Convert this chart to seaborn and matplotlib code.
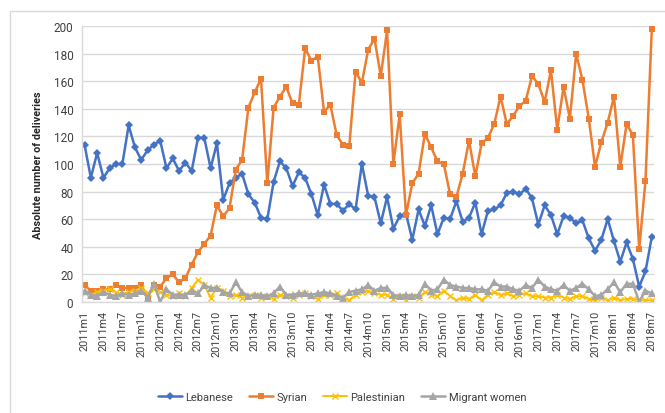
# Gráfico de partos por nacionalidad (mensual 2011m1 - 2018m7)
import seaborn as sns
import matplotlib.pyplot as plt
from matplotlib.patches import Rectangle
import pandas as pd

# Datos
lebanese = [114, 90, 108, 90, 97, 100, 100, 128, 112, 103, 110, 114,
            117, 97, 104, 95, 101, 95, 119, 119, 97, 115, 74, 86,
            90, 93, 78, 72, 61, 60, 87, 102, 97, 84, 94, 90,
            78, 63, 85, 71, 71, 66, 71, 67, 100, 77, 76, 57,
            76, 53, 62, 64, 45, 67, 55, 70, 49, 61, 60, 73,
            58, 61, 72, 49, 66, 67, 70, 79, 80, 78, 82, 75,
            56, 70, 63, 49, 62, 61, 57, 59, 46, 37, 45, 60,
            44, 29, 43, 31, 11, 22, 47]
syrian = [12, 8, 8, 9, 9, 12, 10, 10, 10, 12, 3, 12,
          11, 17, 20, 14, 17, 27, 36, 42, 48, 70, 62, 68,
          96, 103, 141, 152, 162, 86, 141, 149, 156, 144, 143, 184,
          175, 178, 138, 143, 121, 114, 113, 167, 159, 183, 191, 164,
          197, 100, 136, 63, 86, 93, 122, 112, 102, 100, 78, 76,
          93, 117, 91, 115, 119, 129, 149, 129, 135, 142, 146, 164,
          158, 145, 168, 125, 156, 133, 180, 161, 133, 98, 116, 130,
          149, 98, 129, 121, 38, 88, 198]
palestinian = [6, 5, 7, 8, 9, 7, 5, 7, 8, 10, 6, 9,
               7, 5, 4, 6, 4, 10, 16, 12, 3, 10, 8, 4,
               5, 3, 4, 5, 3, 4, 2, 5, 4, 3, 5, 6,
               4, 2, 5, 5, 6, 3, 1, 5, 7, 8, 6, 5,
               5, 2, 4, 1, 4, 3, 7, 5, 4, 8, 4, 1,
               3, 2, 5, 1, 5, 7, 5, 6, 4, 5, 6, 4,
               4, 3, 3, 5, 3, 2, 4, 4, 2, 1, 3, 1,
               3, 1, 2, 2, 1, 1, 1]
migrant = [8, 5, 4, 7, 5, 4, 6, 5, 6, 8, 3, 13,
           0, 9, 5, 5, 5, 8, 6, 12, 10, 10, 7, 6,
           14, 7, 4, 5, 5, 4, 6, 11, 5, 5, 6, 6,
           5, 6, 7, 6, 4, 3, 7, 8, 9, 12, 8, 10,
           10, 5, 4, 5, 4, 5, 13, 8, 9, 16, 12, 11,
           10, 10, 9, 9, 8, 14, 11, 11, 9, 8, 12, 10,
           16, 11, 9, 8, 12, 8, 10, 13, 9, 4, 5, 9,
           14, 7, 13, 13, 0, 8, 6]

months = [f"{2011 + i // 12}m{i % 12 + 1}" for i in range(len(lebanese))]
tick_pos = list(range(0, len(months), 3))
tick_labels = [months[i] for i in tick_pos]

series = {
    "Lebanese": lebanese,
    "Syrian": syrian,
    "Palestinian": palestinian,
    "Migrant women": migrant,
}
# color, marcador, tamaño, grosor de línea
estilos = {
    "Lebanese": ("#4472C4", "D", 4.0, 1.8),
    "Syrian": ("#ED7D31", "s", 5.0, 1.8),
    "Palestinian": ("#FFC000", "x", 5.0, 1.4),
    "Migrant women": ("#A5A5A5", "^", 5.5, 1.8),
}

sns.set_style("white")
plt.rcParams["font.family"] = ["Roboto", "DejaVu Sans"]

fig = plt.figure(figsize=(6.65, 4.14), dpi=100)
ax = fig.add_axes([81.7 / 665, 1 - 302.7 / 414, (654 - 81.7) / 665, (302.7 - 27.3) / 414])

for nombre, valores in series.items():
    df = pd.DataFrame({"x": range(len(valores)), "y": valores})
    color, marca, tam, lw = estilos[nombre]
    sns.lineplot(data=df, x="x", y="y", ax=ax, color=color, marker=marca,
                 markersize=tam, linewidth=lw, markeredgewidth=1.0 if marca == "x" else 0,
                 markeredgecolor=color, label=nombre, legend=False)

ax.set_xlim(-0.45, len(months) - 1 + 0.35)
ax.set_ylim(0, 200)
ax.set_yticks(range(0, 201, 20))
ax.tick_params(axis="y", labelsize=8.5, colors="#404040", length=0, pad=6)
ax.set_xticks(tick_pos)
ax.set_xticklabels(tick_labels, rotation=90, fontsize=7.8, color="#404040")
ax.tick_params(axis="x", length=0, pad=6)
ax.yaxis.grid(True, color="#D9D9D9", linewidth=1)
ax.set_axisbelow(True)
ax.set_xlabel("")
ax.set_ylabel("Absolute number of deliveries", fontsize=7.8, fontweight="bold",
              color="#262626", labelpad=8)
for lado in ["top", "right"]:
    ax.spines[lado].set_visible(False)
for lado in ["left", "bottom"]:
    ax.spines[lado].set_color("#D9D9D9")
    ax.spines[lado].set_linewidth(1)

# borde del área del gráfico
fig.patches.append(Rectangle((10 / 665, -0.1), 1.2, 1 - 12.3 / 414 + 0.1,
                             transform=fig.transFigure, fill=False,
                             edgecolor="#D9D9D9", linewidth=1))

handles, labels = ax.get_legend_handles_labels()
fig.legend(handles, labels, loc="center", bbox_to_anchor=(342 / 665, 1 - 398 / 414),
           ncol=4, frameon=False, fontsize=8, handlelength=2.2,
           handletextpad=0.3, columnspacing=1.4, labelcolor="#404040")

fig.savefig("out.png", dpi=100)
